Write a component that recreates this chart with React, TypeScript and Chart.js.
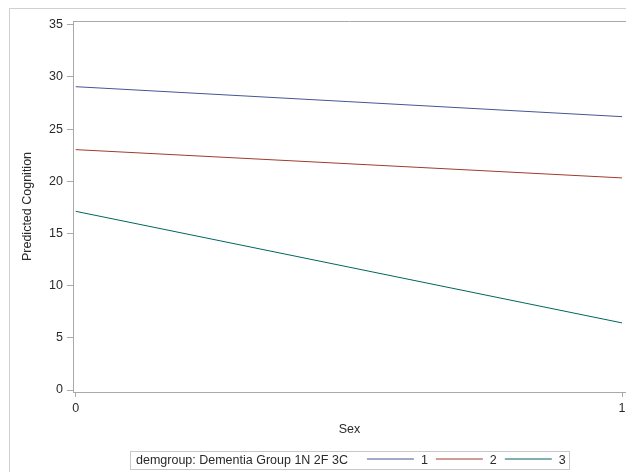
import { useEffect, useRef } from "react";
import { Chart, registerables } from "chart.js";

Chart.register(...registerables);

// ---- data ----
const sexValues = [0, 1];
const groupLabels = ["1", "2", "3"];
const group1 = [29.06, 26.19];
const group2 = [23.03, 20.32];
const group3 = [17.12, 6.43];
const yTickValues = [0, 5, 10, 15, 20, 25, 30, 35];
const xTickValues = [0, 1];
const legendTitle = "demgroup: Dementia Group 1N 2F 3C";
const xTitle = "Sex";
const yTitle = "Predicted Cognition";

const lineColors = ["#445694", "#A23A2E", "#01665E"];
const FONT = '"Liberation Sans", Arial, Helvetica, sans-serif';
const FONT_SIZE = 12.5;
const TEXT_COLOR = "#2a2a2a";
const AXIS_COLOR = "#a9a9a9";
const FRAME_COLOR = "#d0d0d0";

const seriesValues = [group1, group2, group3];

const decorPlugin = {
  id: "decor",
  beforeDraw(chart: any) {
    const ctx = chart.ctx;
    const a = chart.chartArea;
    ctx.save();
    ctx.lineWidth = 1;
    ctx.strokeStyle = FRAME_COLOR;
    ctx.beginPath();
    ctx.moveTo(9.5, chart.height);
    ctx.lineTo(9.5, 8.5);
    ctx.lineTo(chart.width, 8.5);
    ctx.stroke();
    ctx.strokeStyle = AXIS_COLOR;
    ctx.beginPath();
    ctx.moveTo(a.left, Math.round(a.top) + 0.5);
    ctx.lineTo(a.right, Math.round(a.top) + 0.5);
    ctx.stroke();
    ctx.restore();
  },
  afterDraw(chart: any) {
    const ctx = chart.ctx;
    const a = chart.chartArea;
    ctx.save();
    ctx.font = `${FONT_SIZE}px ${FONT}`;
    const titleW = ctx.measureText(legendTitle).width;
    const padL = 6, padR = 3, gapTitle = 19, lineLen = 47, gapLabel = 7, gapItem = 8;
    const labels: string[] = groupLabels;
    let total = padL + titleW;
    const labelWs: number[] = [];
    labels.forEach((lab, i) => {
      const w = ctx.measureText(lab).width;
      labelWs.push(w);
      total += (i === 0 ? gapTitle : gapItem) + lineLen + gapLabel + w;
    });
    total += padR;
    const cx = (a.left + a.right) / 2;
    const left = Math.round(cx - total / 2) + 0.5;
    const top = 451.5, h = 18;
    ctx.strokeStyle = "#c8c8c8";
    ctx.lineWidth = 1;
    ctx.strokeRect(left, top, Math.round(total), h);
    const ty = top + h / 2;
    ctx.fillStyle = TEXT_COLOR;
    ctx.textBaseline = "middle";
    ctx.textAlign = "left";
    let x = left - 0.5 + padL;
    ctx.fillText(legendTitle, x, ty);
    x += titleW;
    labels.forEach((lab, i) => {
      x += i === 0 ? gapTitle : gapItem;
      ctx.strokeStyle = lineColors[i];
      ctx.lineWidth = 1.2;
      ctx.beginPath();
      ctx.moveTo(x, 459);
      ctx.lineTo(x + lineLen, 459);
      ctx.stroke();
      x += lineLen + gapLabel;
      ctx.fillStyle = TEXT_COLOR;
      ctx.fillText(lab, x, ty);
      x += labelWs[i];
    });
    ctx.restore();
  },
};

export default function App() {
  const ref = useRef<HTMLCanvasElement>(null);
  useEffect(() => {
    Chart.defaults.font.family = FONT;
    Chart.defaults.font.size = FONT_SIZE;
    Chart.defaults.color = TEXT_COLOR;
    const chart = new Chart(ref.current!, {
      type: "line",
      data: {
        datasets: groupLabels.map((lab, gi) => ({
          label: lab,
          data: sexValues.map((x, i) => ({ x, y: seriesValues[gi][i] })),
          borderColor: lineColors[gi],
          backgroundColor: lineColors[gi],
          borderWidth: 1,
          pointRadius: 0,
          tension: 0,
          fill: false,
        })),
      },
      options: {
        responsive: false,
        animation: false,
        devicePixelRatio: 1,
        layout: { padding: { left: 0, right: 0, top: 21, bottom: 30 } },
        plugins: {
          legend: { display: false },
          tooltip: { enabled: false },
        },
        scales: {
          x: {
            type: "linear",
            min: -0.005,
            max: 1.0073,
            afterBuildTicks: (s: any) => {
              s.ticks = xTickValues.map((v) => ({ value: v }));
            },
            afterFit: (s: any) => {
              s.height = 50;
              s.paddingLeft = 0;
              s.paddingRight = 0;
            },
            grid: {
              drawOnChartArea: false,
              drawTicks: true,
              tickLength: 5,
              tickColor: AXIS_COLOR,
            },
            border: { color: AXIS_COLOR },
            ticks: {
              padding: 4,
              maxRotation: 0,
              autoSkip: false,
              color: TEXT_COLOR,
              callback: (v: any) => String(v),
            },
            title: {
              display: true,
              text: xTitle,
              color: TEXT_COLOR,
              padding: { top: 0, bottom: 5 },
            },
          },
          y: {
            type: "linear",
            min: -0.19,
            max: 35.354,
            afterBuildTicks: (s: any) => {
              s.ticks = yTickValues.map((v) => ({ value: v }));
            },
            afterFit: (s: any) => {
              s.width = 73;
              s.paddingTop = 0;
              s.paddingBottom = 0;
            },
            grid: {
              drawOnChartArea: false,
              drawTicks: true,
              tickLength: 6,
              tickColor: AXIS_COLOR,
            },
            border: { color: AXIS_COLOR },
            ticks: {
              padding: 4,
              autoSkip: false,
              color: TEXT_COLOR,
              callback: (v: any) => String(v),
            },
            title: {
              display: true,
              text: yTitle,
              color: TEXT_COLOR,
              padding: { top: 20.5, bottom: 0 },
            },
          },
        },
      },
      plugins: [decorPlugin],
    });
    return () => chart.destroy();
  }, []);
  return (
    <div
      style={{
        position: "absolute",
        left: 0,
        top: 0,
        width: 626,
        height: 472,
        background: "#ffffff",
        overflow: "hidden",
      }}
    >
      <canvas
        ref={ref}
        width={626}
        height={472}
        style={{ display: "block", width: 626, height: 472 }}
      />
    </div>
  );
}
